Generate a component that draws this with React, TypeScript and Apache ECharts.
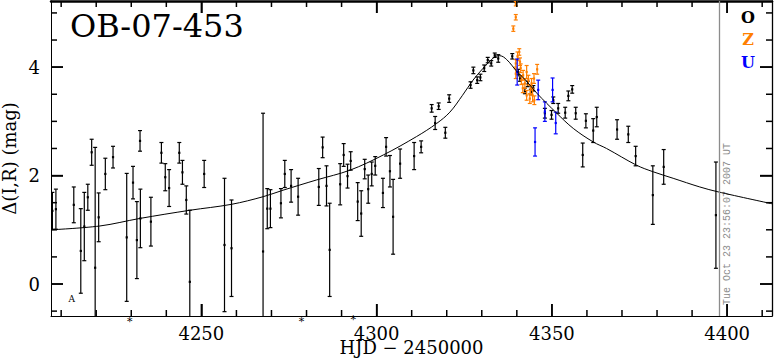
import React, { useEffect, useRef } from "react";
import * as echarts from "echarts";

const X_MIN = 4207.1;
const X_MAX = 4412.8;
const Y_MIN = -0.59;
const Y_MAX = 5.22;

const xMajorTicks = [4250, 4300, 4350, 4400];
const xMinorTicks = [4210, 4220, 4230, 4240, 4260, 4270, 4280, 4290, 4310, 4320, 4330, 4340, 4360, 4370, 4380, 4390, 4410];
const yMajorTicks = [0, 2, 4];
const yMinorTicks = [-0.5, 0.5, 1, 1.5, 2.5, 3, 3.5, 4.5, 5];

const titleText = "OB-07-453";
const xName = "HJD \u2212 2450000";
const yName = "\u0394(I,R) (mag)";
const stampText = "Tue Oct 23 23:56:07 2007 UT";
const nowHJD = 4397.7;

// [HJD-2450000, delta mag, error]
const obsO: number[][] = [
  [4207.5, 1.35, 0.34], [4208.5, 1.38, 0.37], [4213.6, 1.46, 0.33], [4215.6, 0.61, 0.78],
  [4216.6, 1.06, 0.63], [4217.6, 1.6, 0.24], [4218.7, 2.43, 0.24], [4219.7, 0.3, 2.22],
  [4220.7, 1.23, 0.45], [4222.6, 2.03, 0.29], [4224.8, 2.34, 0.2], [4228.7, 0.86, 1.18],
  [4230.5, 1.87, 0.3], [4231.6, 0.81, 0.71], [4232.5, 2.64, 0.19], [4232.6, 1.21, 0.54],
  [4235.6, 1.15, 0.45], [4238.6, 2.42, 0.19], [4239.7, 1.97, 0.25], [4240.8, 1.77, 0.34],
  [4243.7, 2.42, 0.19], [4244.6, 2.06, 0.22], [4245.7, 1.55, 0.26], [4246.7, 0.04, 1.32],
  [4250.8, 2.03, 0.25], [4256.6, 0.72, 1.23], [4258.6, 0.66, 0.89], [4267.6, 0.6, 2.55],
  [4268.8, 1.39, 0.37], [4269.7, 1.39, 0.35], [4272.7, 1.49, 0.27], [4273.8, 2.03, 0.25],
  [4275.6, 1.81, 0.3], [4277.6, 1.61, 0.34], [4283.5, 1.79, 0.34], [4284.6, 2.52, 0.19],
  [4285.7, 1.81, 0.37], [4286.6, 0.63, 0.86], [4289.6, 1.84, 0.38], [4290.6, 2.38, 0.21],
  [4291.7, 1.99, 0.22], [4292.6, 2.27, 0.17], [4294.6, 1.52, 0.35], [4295.6, 1.3, 0.42],
  [4296.6, 2.12, 0.18], [4297.6, 1.75, 0.26], [4298.6, 2.03, 0.22], [4299.6, 2.18, 0.17],
  [4301.8, 1.68, 0.27], [4302.7, 2.53, 0.17], [4303.8, 2.08, 0.29], [4304.7, 1.24, 0.69],
  [4306.7, 2.22, 0.27], [4310.7, 2.36, 0.25], [4312.7, 2.53, 0.11], [4315.7, 3.24, 0.07],
  [4316.7, 2.97, 0.12], [4317.7, 3.28, 0.06], [4319.6, 2.79, 0.1], [4320.7, 3.42, 0.07],
  [4326.8, 3.67, 0.06], [4327.6, 3.94, 0.06], [4328.7, 3.76, 0.06], [4329.6, 3.81, 0.06],
  [4330.7, 3.98, 0.06], [4331.7, 4.13, 0.05], [4332.7, 4.07, 0.05], [4333.7, 4.22, 0.04],
  [4334.7, 4.16, 0.07], [4338.7, 4.2, 0.05], [4340.4, 3.91, 0.05], [4340.9, 3.79, 0.05],
  [4342.3, 3.56, 0.05], [4343.1, 3.69, 0.05], [4344.0, 3.54, 0.05], [4344.7, 3.61, 0.05],
  [4348.0, 3.15, 0.09], [4349.9, 3.12, 0.08], [4350.4, 3.39, 0.06], [4351.8, 3.24, 0.09],
  [4353.8, 3.16, 0.1], [4354.7, 3.47, 0.09], [4355.8, 3.59, 0.07], [4356.8, 3.15, 0.11],
  [4358.8, 2.38, 0.22], [4359.7, 3.01, 0.13], [4361.8, 2.83, 0.22], [4362.8, 3.08, 0.18],
  [4368.6, 2.85, 0.18], [4371.8, 2.76, 0.15], [4373.9, 2.36, 0.18], [4378.8, 1.64, 0.54],
  [4381.9, 2.16, 0.32], [4396.8, 1.27, 0.98],
];

const obsZ: number[][] = [
  [4339.7, 5.17, 0.04], [4339.7, 4.92, 0.05], [4339.0, 4.71, 0.05], [4340.7, 4.28, 0.06],
  [4340.2, 4.2, 0.08], [4339.7, 4.07, 0.07], [4340.9, 4.1, 0.07], [4339.7, 3.88, 0.09],
  [4341.1, 3.98, 0.08], [4341.8, 3.85, 0.09], [4342.3, 3.7, 0.09], [4342.8, 3.91, 0.12],
  [4343.3, 3.76, 0.09], [4341.7, 3.61, 0.08], [4343.9, 3.58, 0.09], [4344.2, 3.7, 0.09],
  [4344.5, 3.48, 0.12], [4344.9, 3.79, 0.09], [4343.7, 3.42, 0.09], [4345.8, 3.96, 0.09],
  [4345.0, 3.39, 0.08], [4342.8, 3.48, 0.09], [4341.3, 3.76, 0.08],
];

const obsU: number[][] = [
  [4340.1, 3.91, 0.24], [4346.1, 3.58, 0.18], [4350.2, 3.58, 0.22],
  [4348.0, 3.18, 0.18], [4351.1, 2.97, 0.2], [4345.2, 2.62, 0.26],
];

const modelCurve: number[][] = [
  [4207.1, 1.0], [4221.0, 1.07], [4232.5, 1.21], [4246.7, 1.36], [4258.6, 1.47],
  [4267.6, 1.61], [4273.3, 1.73], [4282.9, 1.92], [4292.4, 2.1], [4301.9, 2.38],
  [4311.4, 2.72], [4317.1, 2.96], [4320.9, 3.17], [4324.5, 3.48], [4327.5, 3.76],
  [4330.4, 3.98], [4333.7, 4.19], [4335.2, 4.21], [4337.1, 4.14], [4339.9, 3.93],
  [4342.8, 3.74], [4345.7, 3.52], [4351.4, 3.15], [4356.1, 2.87], [4361.8, 2.62],
  [4365.6, 2.5], [4374.2, 2.19], [4378.9, 2.07], [4384.6, 1.95], [4392.2, 1.79],
  [4397.4, 1.7], [4412.8, 1.48],
];

const annotations: (number | string)[][] = [
  [4213.0, -0.27, "A"], [4229.6, -0.7, "*"], [4278.6, -0.7, "*"], [4293.3, -0.66, "*"],
];

const legendLabels = ["O", "Z", "U"];
const legendColors = ["#000000", "#ff7f00", "#0000ff"];

const SERIF = "DejaVu Serif";

function errRender(color: string) {
  return (params: any, api: any) => {
    const x = api.value(0);
    const y = api.value(1);
    const e = api.value(2);
    const p = api.coord([x, y]);
    const t = api.coord([x, y + e]);
    const b = api.coord([x, y - e]);
    const cw = 2;
    const style = { stroke: color, lineWidth: 1.2, fill: null };
    return {
      type: "group",
      children: [
        { type: "line", shape: { x1: p[0], y1: t[1], x2: p[0], y2: b[1] }, style },
        { type: "line", shape: { x1: p[0] - cw, y1: t[1], x2: p[0] + cw, y2: t[1] }, style },
        { type: "line", shape: { x1: p[0] - cw, y1: b[1], x2: p[0] + cw, y2: b[1] }, style },
        { type: "rect", shape: { x: p[0] - 1.1, y: p[1] - 1.1, width: 2.2, height: 2.2 }, style: { fill: color, stroke: null } },
      ],
    };
  };
}

// tick values with their length in pixels (major 12, minor 6)
const xTickData = [...xMajorTicks.map((v) => [v, 2, 12]), ...xMinorTicks.map((v) => [v, 2, 6])];
const yTickData = [...yMajorTicks.map((v) => [4300, v, 12]), ...yMinorTicks.map((v) => [4300, v, 6])];

export default function App() {
  const ref = useRef<HTMLDivElement>(null);
  useEffect(() => {
    document.body.style.margin = "0";
    if (!ref.current) return;
    const chart = echarts.init(ref.current, undefined, { renderer: "svg" });
    const baseX = { type: "value", min: X_MIN, max: X_MAX, splitLine: { show: false } };
    const baseY = { type: "value", min: Y_MIN, max: Y_MAX, splitLine: { show: false } };

    chart.setOption({
      animation: false,
      backgroundColor: "#fff",
      grid: { left: 51, right: 3, top: 1, bottom: 46, outerBoundsMode: "none", containLabel: false },
      xAxis: [
        {
          ...baseX,
          position: "bottom",
          axisLine: { lineStyle: { color: "#000", width: 1 }, onZero: false },
          axisTick: { show: true, inside: true, length: 12, customValues: xMajorTicks, lineStyle: { color: "#000", width: 1.5 } },
          axisLabel: {
            customValues: xMajorTicks,
            formatter: (v: number) => String(v),
            fontSize: 18,
            lineHeight: 13,
            fontFamily: SERIF,
            color: "#000",
            margin: 11,
          },
          name: xName,
          nameLocation: "middle",
          nameGap: 25,
          nameMoveOverlap: false,
          nameTextStyle: { fontSize: 18, lineHeight: 13, fontFamily: SERIF, color: "#000" },
        },
        {
          ...baseX,
          position: "top",
          axisLine: { lineStyle: { color: "#000", width: 2.5 }, onZero: false },
          axisTick: { show: true, inside: true, length: 12, customValues: xMajorTicks, lineStyle: { color: "#000", width: 1.5 } },
          axisLabel: { show: false },
        },
      ],
      yAxis: [
        {
          ...baseY,
          position: "left",
          axisLine: { lineStyle: { color: "#000", width: 1 }, onZero: false },
          axisTick: { show: true, inside: true, length: 12, customValues: yMajorTicks, lineStyle: { color: "#000", width: 1.5 } },
          axisLabel: {
            customValues: yMajorTicks,
            formatter: (v: number) => String(v),
            fontSize: 18,
            fontFamily: SERIF,
            color: "#000",
            margin: 11,
          },
          name: yName,
          nameLocation: "middle",
          nameGap: 33,
          nameRotate: 90,
          nameMoveOverlap: false,
          nameTextStyle: { fontSize: 18, fontFamily: SERIF, color: "#000" },
        },
        {
          ...baseY,
          position: "right",
          axisLine: { lineStyle: { color: "#000", width: 1.3 }, onZero: false },
          axisTick: { show: true, inside: true, length: 12, customValues: yMajorTicks, lineStyle: { color: "#000", width: 1.5 } },
          axisLabel: { show: false },
        },
      ],
      series: [
        {
          type: "line",
          name: "model",
          data: modelCurve,
          smooth: 0.35,
          showSymbol: false,
          symbol: "none",
          lineStyle: { color: "#000", width: 1 },
          markLine: {
            silent: true,
            symbol: ["none", "none"],
            label: { show: false },
            lineStyle: { color: "#8c8c8c", width: 1.3, type: "solid" },
            data: [{ xAxis: nowHJD }],
          },
        },
        { type: "custom", name: "O", data: obsO, renderItem: errRender("#000000"), clip: true, encode: { x: 0, y: 1 } },
        { type: "custom", name: "Z", data: obsZ, renderItem: errRender("#ff7f00"), clip: true, encode: { x: 0, y: 1 } },
        { type: "custom", name: "U", data: obsU, renderItem: errRender("#0000ff"), clip: true, encode: { x: 0, y: 1 } },
        {
          type: "custom",
          name: "xticks",
          data: xTickData,
          clip: true,
          encode: { x: 0, y: 1 },
          renderItem: (params: any, api: any) => {
            const v = api.value(0);
            const len = api.value(2);
            const b = api.coord([v, Y_MIN]);
            const t = api.coord([v, Y_MAX]);
            return {
              type: "group",
              children: [
                { type: "line", shape: { x1: b[0], y1: b[1], x2: b[0], y2: b[1] - len }, style: { stroke: "#000", lineWidth: 1.5, fill: null } },
                { type: "line", shape: { x1: t[0], y1: t[1], x2: t[0], y2: t[1] + len }, style: { stroke: "#000", lineWidth: 1.5, fill: null } },
              ],
            };
          },
        },
        {
          type: "custom",
          name: "yticks",
          data: yTickData,
          clip: true,
          encode: { x: 0, y: 1 },
          renderItem: (params: any, api: any) => {
            const v = api.value(1);
            const len = api.value(2);
            const l = api.coord([X_MIN, v]);
            const r = api.coord([X_MAX, v]);
            return {
              type: "group",
              children: [
                { type: "line", shape: { x1: l[0], y1: l[1], x2: l[0] + len, y2: l[1] }, style: { stroke: "#000", lineWidth: 1.5, fill: null } },
                { type: "line", shape: { x1: r[0], y1: r[1], x2: r[0] - len, y2: r[1] }, style: { stroke: "#000", lineWidth: 1.5, fill: null } },
              ],
            };
          },
        },
        {
          type: "custom",
          name: "marks",
          data: annotations,
          clip: false,
          encode: { x: 0, y: 1 },
          renderItem: (params: any, api: any) => {
            const p = api.coord([api.value(0), api.value(1)]);
            const txt = annotations[params.dataIndex][2] as string;
            return {
              type: "text",
              x: p[0],
              y: p[1],
              style: {
                text: txt,
                fontSize: txt === "A" ? 9 : 11,
                fontFamily: SERIF,
                fill: "#000",
                align: "center",
                verticalAlign: "middle",
              },
            };
          },
        },
      ],
      graphic: [
        {
          type: "text",
          x: 70,
          y: 26,
          style: { text: titleText, fontSize: 32, fontFamily: SERIF, fill: "#000", verticalAlign: "middle" },
        },
        ...legendLabels.map((t, i) => ({
          type: "text",
          x: 748,
          y: 17 + i * 22.5,
          style: {
            text: t,
            fontSize: 16,
            fontWeight: "bold",
            fontFamily: SERIF,
            fill: legendColors[i],
            align: "center",
            verticalAlign: "middle",
          },
        })),
        {
          type: "text",
          x: 727.5,
          y: 224,
          rotation: Math.PI / 2,
          style: {
            text: stampText,
            fontSize: 10,
            fontFamily: "Liberation Mono",
            fill: "#8c8c8c",
            align: "center",
            verticalAlign: "middle",
          },
        },
      ],
    });

    return () => chart.dispose();
  }, []);
  return <div ref={ref} style={{ width: 775, height: 362 }} />;
}
